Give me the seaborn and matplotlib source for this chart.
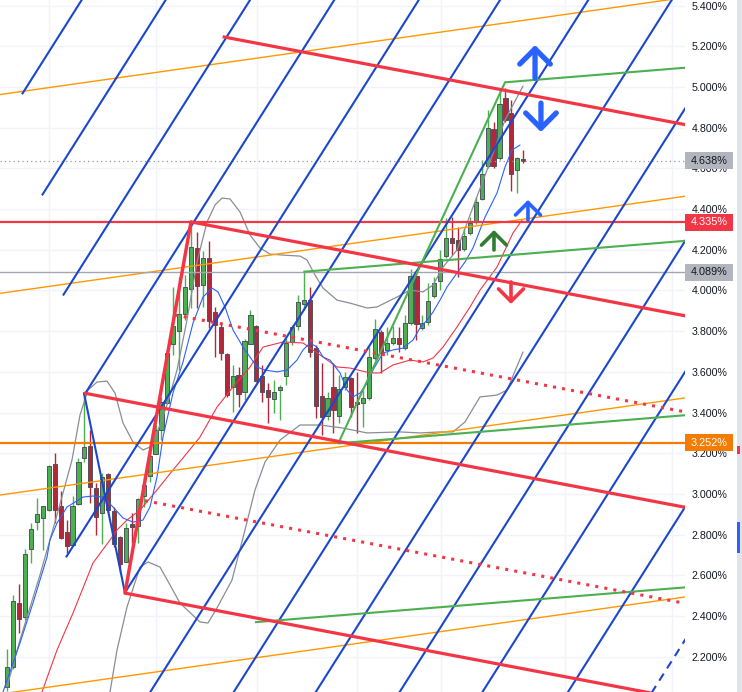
import numpy as np
import pandas as pd
import matplotlib
matplotlib.use("Agg")
import matplotlib.pyplot as plt
import matplotlib.transforms as mtransforms
from matplotlib.patches import Rectangle
import seaborn as sns

# Weekly candles, yield in percent (bar index = position in list)
opens = [2.050, 2.148, 2.464, 2.396, 2.730, 2.862, 2.882, 2.921, 3.147, 2.941,
         2.813, 2.749, 2.951, 3.177, 3.236, 3.028, 2.907, 3.098, 2.916, 2.789,
         2.666, 2.853, 2.843, 2.990, 3.088, 3.197, 3.314, 3.447, 3.737, 3.801,
         3.885, 4.007, 4.209, 4.027, 4.160, 3.894, 3.821, 3.688, 3.526, 3.585,
         3.501, 3.737, 3.826, 3.580, 3.511, 3.467, 3.511, 3.580, 3.747, 3.826,
         3.934, 3.953, 3.717, 3.481, 3.383, 3.526, 3.383, 3.526, 3.570, 3.452,
         3.447, 3.472, 3.668, 3.796, 3.708, 3.742, 3.767, 3.717, 3.840, 4.071,
         3.816, 3.845, 3.973, 4.047, 4.170, 4.258, 4.248, 4.204, 4.283, 4.337,
         4.450, 4.612, 4.794, 4.651, 4.946, 4.872, 4.592, 4.646]
highs = [2.238, 2.504, 2.558, 2.730, 2.857, 2.980, 2.941, 3.142, 3.201, 3.015,
         2.872, 2.990, 3.177, 3.496, 3.314, 3.052, 3.103, 3.103, 2.936, 2.794,
         2.857, 2.907, 2.980, 3.088, 3.226, 3.339, 3.477, 3.708, 4.017, 4.066,
         4.076, 4.337, 4.287, 4.194, 4.243, 3.919, 3.840, 3.693, 3.634, 3.624,
         3.762, 3.904, 3.830, 3.634, 3.545, 3.560, 3.536, 3.767, 3.830, 3.978,
         4.096, 4.017, 3.732, 3.644, 3.501, 3.644, 3.585, 3.600, 3.575, 3.600,
         3.511, 3.722, 3.860, 3.806, 3.821, 3.825, 3.821, 3.880, 4.106, 4.086,
         3.880, 4.037, 4.066, 4.199, 4.356, 4.361, 4.312, 4.307, 4.361, 4.459,
         4.641, 4.887, 4.828, 4.990, 4.995, 4.936, 4.656, 4.690]
lows = [2.030, 2.140, 2.317, 2.381, 2.661, 2.823, 2.725, 2.916, 2.857, 2.779,
        2.710, 2.744, 2.946, 3.157, 2.954, 2.799, 2.754, 2.907, 2.740, 2.617,
        2.666, 2.759, 2.759, 2.936, 3.059, 3.197, 3.265, 3.447, 3.683, 3.609,
        3.855, 3.914, 3.914, 3.919, 3.816, 3.673, 3.658, 3.477, 3.403, 3.427,
        3.462, 3.737, 3.550, 3.452, 3.349, 3.398, 3.364, 3.536, 3.732, 3.806,
        3.904, 3.673, 3.373, 3.290, 3.364, 3.300, 3.349, 3.511, 3.378, 3.300,
        3.329, 3.462, 3.658, 3.595, 3.683, 3.732, 3.698, 3.708, 3.830, 3.757,
        3.806, 3.830, 3.963, 4.002, 4.160, 4.174, 4.066, 4.194, 4.273, 4.327,
        4.445, 4.602, 4.602, 4.641, 4.828, 4.489, 4.479, 4.626]
closes = [2.151, 2.476, 2.386, 2.705, 2.828, 2.902, 2.941, 3.138, 2.921, 2.784,
          2.744, 2.941, 3.157, 3.231, 3.033, 2.887, 3.084, 2.921, 2.754, 2.656,
          2.833, 2.838, 2.975, 3.044, 3.187, 3.314, 3.452, 3.693, 3.826, 3.885,
          4.017, 4.214, 4.022, 4.160, 3.850, 3.830, 3.693, 3.486, 3.580, 3.491,
          3.752, 3.880, 3.555, 3.501, 3.477, 3.501, 3.526, 3.742, 3.821, 3.943,
          3.953, 3.698, 3.432, 3.378, 3.472, 3.413, 3.516, 3.575, 3.427, 3.442,
          3.472, 3.673, 3.811, 3.693, 3.742, 3.767, 3.737, 3.840, 4.071, 3.835,
          3.840, 3.948, 4.037, 4.155, 4.258, 4.233, 4.199, 4.268, 4.332, 4.435,
          4.572, 4.798, 4.612, 4.916, 4.838, 4.572, 4.651, 4.638]

# Indicators: (bar index, value)
fast_ma_x = [-0.73, 2.14, 4.33, 6.70, 7.20, 8.38, 10.07, 12.77, 14.45, 16.14,
             17.83, 19.51, 21.20, 22.88, 24.06, 25.25, 26.26, 27.94, 29.63, 31.32,
             33.00, 34.52, 35.53, 36.71, 38.06, 39.75, 40.93, 42.11, 43.46, 45.48,
             47.17, 48.85, 49.87, 51.05, 52.23, 53.24, 54.42, 56.11, 57.29, 58.30,
             59.48, 60.66, 61.67, 63.36, 65.04, 66.73, 68.42, 69.60, 70.78, 71.79,
             72.97, 74.15, 75.84, 77.18, 78.53, 80.56, 82.58, 83.93, 85.11, 86.46]
fast_ma_y = [2.027, 2.268, 2.464, 2.690, 2.774, 2.857, 2.936, 2.985, 2.990, 2.985,
             2.936, 2.882, 2.862, 2.872, 2.936, 3.084, 3.280, 3.496, 3.649, 3.840,
             3.968, 4.012, 3.993, 3.919, 3.806, 3.722, 3.673, 3.624, 3.609, 3.600,
             3.609, 3.658, 3.708, 3.742, 3.722, 3.673, 3.658, 3.595, 3.511, 3.477,
             3.496, 3.545, 3.609, 3.693, 3.708, 3.717, 3.757, 3.816, 3.855, 3.894,
             3.953, 4.017, 4.086, 4.140, 4.209, 4.361, 4.479, 4.607, 4.690, 4.715]
slow_ma_x = [5.85, 8.38, 11.08, 14.45, 17.32, 18.50, 20.19, 22.38, 25.25, 27.94,
             30.30, 32.50, 35.36, 38.06, 40.93, 43.12, 46.49, 49.87, 51.55, 53.24,
             55.60, 57.79, 59.14, 61.16, 62.85, 65.04, 67.91, 70.10, 71.79, 73.47,
             75.84, 78.03, 79.71, 82.58, 85.28, 86.80]
slow_ma_y = [2.027, 2.233, 2.415, 2.661, 2.774, 2.823, 2.872, 2.921, 3.020, 3.118,
             3.201, 3.280, 3.427, 3.526, 3.624, 3.722, 3.747, 3.742, 3.708, 3.673,
             3.624, 3.619, 3.609, 3.595, 3.595, 3.634, 3.658, 3.649, 3.668, 3.722,
             3.821, 3.919, 4.002, 4.115, 4.283, 4.346]
upper_band_x = [-0.05, 2.14, 5.51, 8.38, 10.91, 12.26, 13.61, 15.13, 16.81, 18.16,
                19.51, 21.20, 22.88, 24.06, 25.25, 26.93, 28.62, 30.30, 31.99, 33.68,
                35.03, 36.21, 37.55, 39.24, 40.93, 42.61, 44.30, 46.49, 49.36, 50.54,
                51.89, 53.24, 55.60, 57.79, 60.66, 62.34, 65.72, 67.91, 70.10, 71.79,
                73.47, 75.84, 78.03, 80.90, 83.93, 86.97]
upper_band_y = [2.052, 2.283, 2.602, 2.897, 3.167, 3.388, 3.511, 3.550, 3.555, 3.496,
                3.349, 3.255, 3.216, 3.231, 3.300, 3.437, 3.609, 3.855, 4.140, 4.337,
                4.420, 4.454, 4.450, 4.386, 4.273, 4.209, 4.179, 4.174, 4.169, 4.150,
                4.076, 4.012, 3.953, 3.938, 3.914, 3.919, 3.968, 4.002, 3.993, 4.027,
                4.115, 4.199, 4.371, 4.592, 4.838, 5.005]
lower_band_x = [17.32, 18.50, 20.19, 22.38, 23.73, 25.75, 27.44, 29.12, 32.50, 33.85,
                35.36, 37.89, 40.08, 41.77, 43.46, 45.99, 49.36, 52.73, 56.61, 60.66,
                66.22, 69.60, 72.97, 75.16, 77.18, 79.71, 82.58, 84.27, 86.97]
lower_band_y = [2.027, 2.233, 2.445, 2.641, 2.666, 2.641, 2.553, 2.464, 2.371, 2.366,
                2.440, 2.577, 2.823, 3.020, 3.157, 3.265, 3.339, 3.339, 3.324, 3.300,
                3.305, 3.300, 3.305, 3.305, 3.354, 3.477, 3.486, 3.511, 3.698]

# Drawings
blue_levels = [4.850, 4.198, 3.543, 2.889, 2.233, 1.602, 0.917, 0.269,
               -0.368, -1.019, -1.662, -2.326, -2.979]   # value at bar 0
blue_start = [2.48, 5.85, 9.39, 12.93, 9.90, 19.85, -2, -2, -2, -2, -2, -2, -2]
blue_slope = 0.04604
blue_leg = ([12.93, 19.85], [3.496, 2.513])

red_start_x = [36.32, 30.98, 12.93, 19.85]
red_start_y = [5.247, 4.337, 3.496, 2.513]
red_dot_x = [28.24, 23.22]
red_dot_y = [3.880, 2.967]
red_slope = -0.005537
red_leg = ([19.85, 30.98], [2.513, 4.337])

orange_levels = [4.968, 3.991, 3.000, 2.022]
orange_slope = 0.00413

green_start_x = [83.93, 49.92, 55.82, 41.77]
green_start_y = [5.023, 4.092, 3.249, 2.370]
green_slope = 0.00236
green_leg = ([55.82, 83.93], [3.249, 5.023])

last_price = 4.638
level_prices = [4.335, 4.089, 3.252]
level_colors = ["#f23645", "#a3a6af", "#f57c00"]
tag_prices = [4.638, 4.335, 4.089, 3.252]
tag_faces = ["#b2b5be", "#f23645", "#b2b5be", "#f57c00"]
tag_text = ["#131722", "white", "#131722", "white"]

arrow_x = [88.99, 89.99, 87.80, 82.07, 84.94]
arrow_tail = [5.044, 4.921, 4.346, 4.199, 4.042]
arrow_head = [5.206, 4.779, 4.445, 4.297, 3.934]
arrow_colors = ["#2962ff", "#2962ff", "#2962ff", "#2e7d32", "#f23645"]
arrow_big = [True, True, False, False, False]

tick_values = [2.2, 2.4, 2.6, 2.8, 3.0, 3.2, 3.4, 3.6, 3.8, 4.0, 4.2, 4.4, 4.6, 4.8, 5.0, 5.2, 5.4]
grid_x = [7.03, 25.07, 42.11, 58.97, 73.14, 94.05, 112.09]

# Frame
sns.set_theme(style="white")
plt.rcParams["font.family"] = ["Liberation Sans", "DejaVu Sans"]

fig = plt.figure(figsize=(7.42, 6.92), dpi=100)
ax = fig.add_axes([0, 0, 685 / 742, 1])
x_min, x_max = -1.23, 114.28
ax.set_xlim(x_min, x_max)
ax.set_ylim(2.027, 5.4275)
X_END = 120.0

# Candles
candles = pd.DataFrame({"open": opens, "high": highs, "low": lows, "close": closes})
candles["bar"] = np.arange(len(candles))
rising = candles["close"] >= candles["open"]
colors = np.where(rising, "#4caf50", "#b2283a")
ax.vlines(candles["bar"], candles["low"], candles["high"], colors=colors, linewidth=1.0, zorder=2)
ax.bar(candles["bar"], (candles["close"] - candles["open"]).abs().clip(lower=0.005),
       bottom=candles[["open", "close"]].min(axis=1), width=0.7, color=colors,
       edgecolor="#50535e", linewidth=0.7, zorder=2.2)

# Indicators
sns.lineplot(x=upper_band_x, y=upper_band_y, ax=ax, color="#8a8d96", linewidth=0.9, sort=False, zorder=2.6)
sns.lineplot(x=lower_band_x, y=lower_band_y, ax=ax, color="#8a8d96", linewidth=0.9, sort=False, zorder=2.6)
sns.lineplot(x=slow_ma_x, y=slow_ma_y, ax=ax, color="#f23645", linewidth=0.8, sort=False, zorder=2.7)
sns.lineplot(x=fast_ma_x, y=fast_ma_y, ax=ax, color="#2962ff", linewidth=0.8, sort=False, zorder=2.7)


def ray(x0, y0, slope, **kw):
    ax.plot([x0, X_END], [y0, y0 + slope * (X_END - x0)], solid_capstyle="butt", **kw)


# Orange parallel lines
for lvl in orange_levels:
    ray(x_min, lvl + orange_slope * x_min, orange_slope, color="#ff9800", linewidth=1.0, zorder=3)

# Horizontal levels
ax.axhline(last_price, color="#9598a1", linewidth=0.9, linestyle=(0, (1, 2.5)), zorder=3)
for p, c in zip(level_prices, level_colors):
    ax.axhline(p, color=c, linewidth=1.0 if c == "#a3a6af" else 1.6, zorder=3.1)

# Blue parallel lines
for i, (lvl, x0) in enumerate(zip(blue_levels, blue_start)):
    style = (0, (4, 3)) if i == len(blue_levels) - 1 else "-"
    ray(x0, lvl + blue_slope * x0, blue_slope, color="#1c47cc", linewidth=1.5, linestyle=style, zorder=3.4)
ax.plot(*blue_leg, color="#1c47cc", linewidth=1.5, zorder=3.4)

# Green channel
for x0, y0 in zip(green_start_x, green_start_y):
    ray(x0, y0, green_slope, color="#4caf50", linewidth=1.5, zorder=3.5)
ax.plot(*green_leg, color="#4caf50", linewidth=1.5, zorder=3.5)

# Red channel
for x0, y0 in zip(red_start_x, red_start_y):
    ray(x0, y0, red_slope, color="#f23645", linewidth=2.3, zorder=3.6)
for x0, y0 in zip(red_dot_x, red_dot_y):
    ray(x0, y0, red_slope, color="#f23645", linewidth=2.2, linestyle=(0, (1, 2)), zorder=3.6)
ax.plot(*red_leg, color="#f23645", linewidth=2.5, solid_capstyle="round", zorder=3.6)

# Arrows
for x, t, h, c, big in zip(arrow_x, arrow_tail, arrow_head, arrow_colors, arrow_big):
    hl = 0.55 if big else 0.45
    ax.annotate("", xy=(x, h), xytext=(x, t),
                arrowprops=dict(arrowstyle=f"->,head_length={hl},head_width={hl}",
                                color=c, lw=3.8 if big else 2.6, shrinkA=0, shrinkB=0,
                                mutation_scale=20, capstyle="round", joinstyle="round"),
                zorder=6)

# Axes styling
ax.set_xticks(grid_x)
ax.set_xticklabels([])
ax.yaxis.tick_right()
ax.set_yticks(tick_values)
ax.set_yticklabels([f"{v:.3f}%" for v in tick_values])
ax.tick_params(axis="y", length=0, pad=5, labelsize=7.7, labelcolor="#131722")
ax.tick_params(axis="x", length=0)
ax.grid(True, color="#f0f3fa", linewidth=1.0)
ax.set_axisbelow(True)
for s in ax.spines.values():
    s.set_visible(False)

# Price tags on the scale
trans = mtransforms.blended_transform_factory(ax.transAxes, ax.transData)
for p, face, tc in zip(tag_prices, tag_faces, tag_text):
    ax.add_patch(Rectangle((1.0, p - 0.041), 48 / 685, 0.082, transform=trans,
                           facecolor=face, edgecolor="none", clip_on=False, zorder=10))
    ax.text(1.0 + 24 / 685, p, f"{p:.3f}%", transform=trans, ha="center", va="center",
            fontsize=7.8, color=tc, clip_on=False, zorder=11)

# Scale border strip
fig.patches.append(Rectangle((737 / 742, 0), 5 / 742, 1, transform=fig.transFigure,
                             facecolor="#e0e3eb", edgecolor="none"))
fig.patches.append(Rectangle((737 / 742, 1 - 454 / 692), 3 / 742, 8 / 692, transform=fig.transFigure,
                             facecolor="#f23645", edgecolor="none"))
fig.patches.append(Rectangle((737 / 742, 1 - 553 / 692), 3 / 742, 31 / 692, transform=fig.transFigure,
                             facecolor="#2962ff", edgecolor="none"))

fig.savefig("out.png", dpi=100)
